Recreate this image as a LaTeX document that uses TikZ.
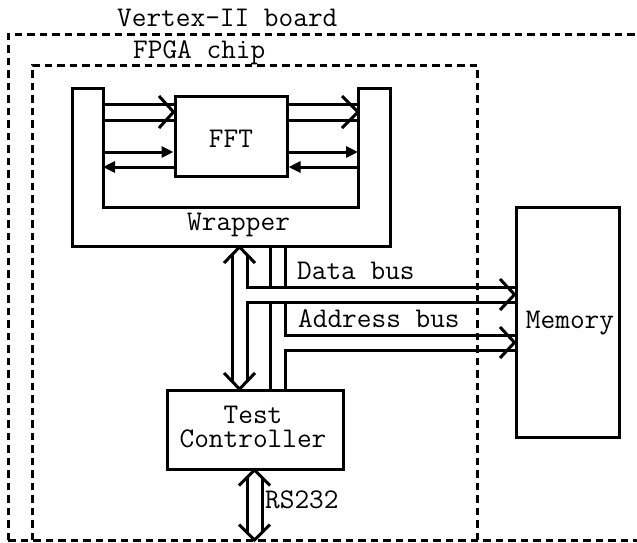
\documentclass[tikz,border=0pt]{standalone}
\usepackage{fontspec}
\usetikzlibrary{arrows.meta}
\begin{document}
\begin{tikzpicture}[x=1pt,y=-1pt,
  wire/.style={line width=3pt, line join=miter},
  box/.style={draw, line width=3pt, inner sep=0pt},
  boundary/.style={line width=3pt, dash pattern=on 7.5pt off 5pt},
  lbl/.style={inner sep=0pt, font=\ttfamily\fontsize{28.5}{24}\selectfont},
  solid tip/.style={-{Triangle[length=12pt,width=11pt]}},
]
\useasboundingbox (0,0) rectangle (637,542);

% board and chip outlines
\draw[boundary] (8,540) -- (8,34) -- (680,34);
\draw[boundary] (8,540) -- (680,540);
\draw[boundary] (32,540) -- (32,65) -- (477,65) -- (477,540);
\node[lbl, anchor=base west] (boardlbl) at (117,26) {Vertex-II board};
\node[lbl, anchor=base west] (chiplbl) at (133,58) {FPGA chip};

% wrapper (U shape)
\draw[wire] (72,88) -- (72,246) -- (390,246) -- (390,88) -- (358,88)
  -- (358,207) -- (103,207) -- (103,88) -- cycle;
\node[lbl, anchor=base west] (wraplbl) at (187,230) {Wrapper};
\coordinate (wl) at (103,0);
\coordinate (wr) at (358,0);

% blocks
\node[box, minimum width=112pt, minimum height=80pt] (fft) at (231,136) {};
\node[lbl, anchor=base] (fftlbl) at (231,147) {FFT};
\node[box, minimum width=176pt, minimum height=79pt] (ctrl) at (255,429.5) {};
\node[lbl, anchor=base, align=center] (ctrllbl) at (253,447) {Test\\Controller};
\node[box, minimum width=103pt, minimum height=230pt] (mem) at (567.5,322) {};
\node[lbl, anchor=base] (memlbl) at (570,328) {Memory};

% FFT input side
\draw[wire] (wl |- 0,104) -- (fft.west |- 0,104);
\draw[wire] (wl |- 0,120) -- (fft.west |- 0,120);
\draw[wire] (159,96) -- (fft.west |- 0,112) -- (159,128);
\draw[wire, solid tip] (wl |- 0,152) -- (fft.west |- 0,152);
\draw[wire, solid tip] (fft.west |- 0,167) -- (wl |- 0,167);

% FFT output side
\draw[wire] (fft.east |- 0,104) -- (wr |- 0,104);
\draw[wire] (fft.east |- 0,120) -- (wr |- 0,120);
\draw[wire] (342,96) -- (wr |- 0,112) -- (342,128);
\draw[wire, solid tip] (fft.east |- 0,152) -- (wr |- 0,152);
\draw[wire, solid tip] (wr |- 0,167) -- (fft.east |- 0,167);

% wrapper <-> controller (hollow double arrow) with data bus branch
\coordinate (ttop) at (239.5,247);
\coordinate (tbot) at (239.5,389);
\draw[wire] (224,263) -- (ttop) -- (255,263);
\draw[wire] (224,373) -- (tbot) -- (255,373);
\draw[wire] (232,254) -- (232,382);
\draw[wire] (247,254) -- (247,287) -- (mem.west |- 0,287);
\draw[wire] (mem.west |- 0,302) -- (247,302) -- (247,382);
\draw[wire] (500,279) -- (mem.west |- 0,294.5) -- (500,310);
\node[lbl, anchor=base west] (datalbl) at (297,279) {Data bus};

% address bus channel
\draw[wire] (270,246) -- (270,287);
\draw[wire] (270,302) -- (270,390);
\draw[wire] (285,246) -- (285,287);
\draw[wire] (285,302) -- (285,335) -- (mem.west |- 0,335);
\draw[wire] (mem.west |- 0,350) -- (285,350) -- (285,390);
\draw[wire] (500,327) -- (mem.west |- 0,342.5) -- (500,358);
\node[lbl, anchor=base west] (addrlbl) at (298,327) {Address bus};

% serial link
\coordinate (rtop) at (254.5,470);
\coordinate (rbot) at (254.5,540);
\draw[wire] (239,485.5) -- (rtop) -- (270,485.5);
\draw[wire] (239,524.5) -- (rbot) -- (270,524.5);
\draw[wire] (247,477) -- (247,533);
\draw[wire] (262,477) -- (262,533);
\node[lbl, anchor=base west] (rslbl) at (265,508) {RS232};
\end{tikzpicture}
\end{document}
